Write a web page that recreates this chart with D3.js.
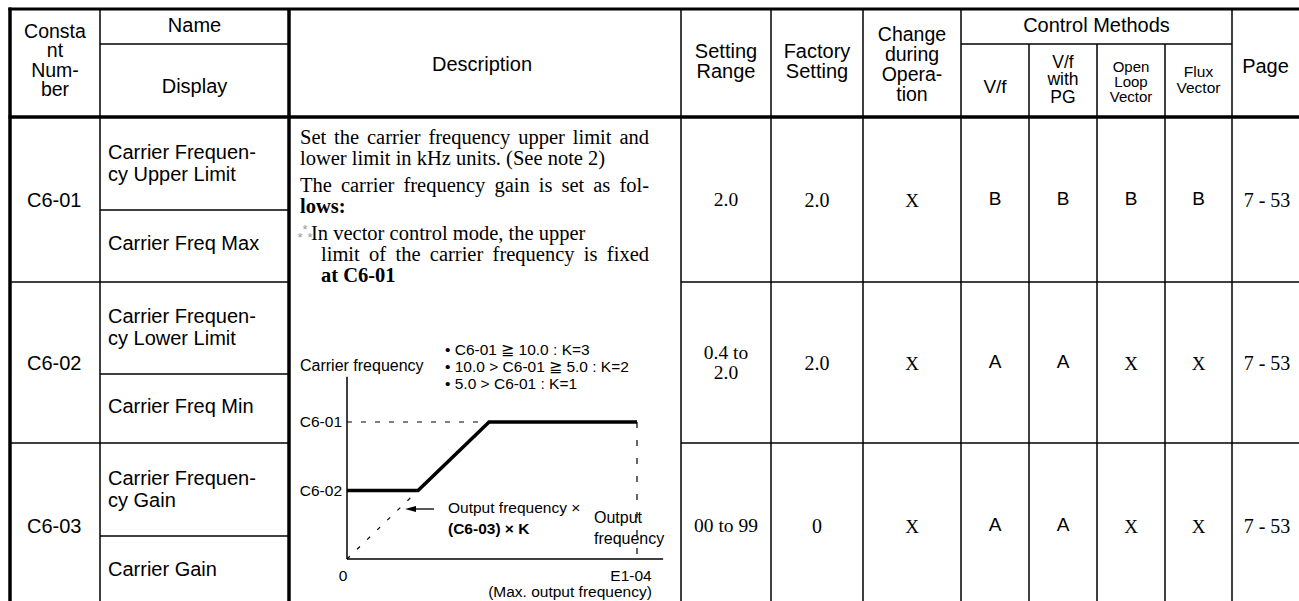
<!DOCTYPE html>
<html>
<head>
<meta charset="utf-8">
<script src="https://cdn.jsdelivr.net/npm/d3@7/dist/d3.min.js"></script>
<style>
  html, body { margin: 0; padding: 0; background: #fff; }
  svg { display: block; }
</style>
</head>
<body>
<svg id="chart" width="1299" height="601"></svg>
<script>
// ---------------- DATA ----------------
const constants = ["C6-01", "C6-02", "C6-03"];
const names = [["Carrier Frequen-", "cy Upper Limit"], ["Carrier Frequen-", "cy Lower Limit"], ["Carrier Frequen-", "cy Gain"]];
const displays = ["Carrier Freq Max", "Carrier Freq Min", "Carrier Gain"];
const settingRanges = [["2.0"], ["0.4 to", "2.0"], ["00 to 99"]];
const factorySettings = ["2.0", "2.0", "0"];
const changeDuringOp = ["X", "X", "X"];
const ctrlVf = ["B", "A", "A"];
const ctrlVfPG = ["B", "A", "A"];
const ctrlOLV = ["B", "X", "X"];
const ctrlFlux = ["B", "X", "X"];
const pages = ["7 - 53", "7 - 53", "7 - 53"];

const descLines = [
  "Set the carrier frequency upper limit and",
  "lower limit in kHz units. (See note 2)",
  "The carrier frequency gain is set as fol-",
  "lows:",
  "In vector control mode, the upper",
  "limit of the carrier frequency is fixed",
  "at C6-01"
];
const kRules = ["• C6-01 ≧ 10.0 : K=3", "• 10.0 > C6-01 ≧ 5.0 : K=2", "• 5.0 > C6-01 : K=1"];

// chart values (output frequency as fraction of E1-04, carrier in units of C6-02)
const curveX = [0, 0.245, 0.49, 1];
const curveY = [1, 1, 2, 2];
const gainLineX = [0, 0.245];
const gainLineY = [0, 1];
const levelC601 = 2, levelC602 = 1, e104 = 1;
const xAxisMax = 1.09, yAxisMax = 2.66;

// ---------------- LAYOUT ----------------
const svg = d3.select("#chart");
const SANS = "'Liberation Sans', Arial, Helvetica, sans-serif";
const SERIF = "'Liberation Serif', 'Times New Roman', serif";

const colX = [10, 100, 289, 681, 771, 863, 961, 1029, 1097, 1165, 1232, 1300];
const topY = 9, midHeadY = 44, headBottom = 117;
const rowY = [117, 282, 443, 608];
const nameSplit = [210, 374, 536];

svg.append("rect").attr("width", 1299).attr("height", 601).attr("fill", "#fff");

const grid = svg.append("g").attr("stroke", "#000").attr("fill", "none");
function hl(x1, x2, y, w) { grid.append("line").attr("x1", x1).attr("x2", x2).attr("y1", y).attr("y2", y).attr("stroke-width", w); }
function vl(x, y1, y2, w) { grid.append("line").attr("x1", x).attr("x2", x).attr("y1", y1).attr("y2", y2).attr("stroke-width", w); }

function txt(lines_, cx, cy, lh, opts) {
  const o = Object.assign({ size: 20, font: SANS, anchor: "middle", weight: "normal" }, opts || {});
  const n = lines_.length;
  lines_.forEach((s, i) => {
    svg.append("text")
      .attr("x", cx)
      .attr("y", cy + (i - (n - 1) / 2) * lh)
      .attr("dy", "0.35em")
      .attr("text-anchor", o.anchor)
      .attr("font-family", o.font)
      .attr("font-size", o.size)
      .attr("font-weight", o.weight)
      .attr("fill", "#000")
      .text(s);
  });
}

// grid lines
hl(colX[0] - 1.5, 1299, topY, 3);
hl(colX[0] - 1.5, 1299, headBottom, 3.5);
hl(colX[1], colX[2], midHeadY, 1.5);
hl(colX[6], colX[10], midHeadY, 1.5);
vl(colX[0], topY - 1.5, 601, 3.5);
vl(colX[1], topY, 601, 1.5);
vl(colX[2], topY, 601, 3.5);
[3, 4, 5, 6, 10].forEach(i => vl(colX[i], topY, 601, 1.5));
[7, 8, 9].forEach(i => vl(colX[i], midHeadY, 601, 1.5));
rowY.slice(1, 3).forEach(y => { hl(colX[0], colX[2], y, 1.5); hl(colX[3], 1299, y, 1.5); });
nameSplit.forEach(y => hl(colX[1], colX[2], y, 1.5));

// header texts
txt(["Consta", "nt", "Num-", "ber"], 55, 60, 19.5, { size: 19.5 });
txt(["Name"], 194.5, 25, 20);
txt(["Display"], 194.5, 86, 20);
txt(["Description"], 482, 64, 20);
txt(["Setting", "Range"], 726, 61, 20);
txt(["Factory", "Setting"], 817, 61, 20);
txt(["Change", "during", "Opera-", "tion"], 912, 64, 20, { size: 19.5 });
txt(["Control Methods"], 1096.5, 25, 20);
txt(["V/f"], 995, 86, 20, { size: 19 });
txt(["V/f", "with", "PG"], 1063, 79, 17.5, { size: 17.5 });
txt(["Open", "Loop", "Vector"], 1131, 82, 15, { size: 15 });
txt(["Flux", "Vector"], 1198.5, 80, 16, { size: 15.5 });
txt(["Page"], 1265.5, 66, 20);

// body rows
constants.forEach((c, i) => {
  const top = rowY[i], bot = rowY[i + 1], mid = (top + bot) / 2;
  txt([c], 27, mid, 20, { anchor: "start" });
  txt(names[i], 108, (top + nameSplit[i]) / 2 - 1, 22, { anchor: "start" });
  txt([displays[i]], 108, (nameSplit[i] + bot) / 2 - 3, 20, { anchor: "start" });
  txt(settingRanges[i], 726, mid, 20, { font: SERIF, size: 19.5 });
  txt([factorySettings[i]], 817, mid, 20, { font: SERIF, size: 20 });
  txt([changeDuringOp[i]], 912, mid + 1, 20, { font: SERIF, size: 19 });
  [ctrlVf, ctrlVfPG, ctrlOLV, ctrlFlux].forEach((arr, j) => {
    const cx = (colX[6 + j] + colX[7 + j]) / 2;
    if (arr[i] === "X") txt([arr[i]], cx, mid + 1, 20, { font: SERIF, size: 19 });
    else txt([arr[i]], cx, mid - 1, 20, { size: 19 });
  });
  txt([pages[i]], 1267, mid, 20, { font: SERIF, size: 20 });
});

// description (justified lines stretched to the column's text edge)
const descY = [137, 158, 185, 206, 233, 254, 275];
const descX = [300, 300, 300, 300, 311, 321, 321];
const descBold = [false, false, false, true, false, false, true];
const descJustify = [true, false, true, false, false, true, false];
const descRight = 649;
descLines.forEach((s, i) => {
  const t = svg.append("text").attr("x", descX[i]).attr("y", descY[i]).attr("dy", "0.35em")
    .attr("font-family", SERIF).attr("font-size", 20.5)
    .attr("font-weight", descBold[i] ? "bold" : "normal")
    .attr("fill", "#000").text(s);
  if (descJustify[i]) {
    const len = t.node().getComputedTextLength();
    const spaces = (s.match(/ /g) || []).length;
    const extra = (descRight - descX[i] - len) / spaces;
    if (extra > 0) t.style("word-spacing", extra + "px");
  }
});
// asterism mark before the note
[[305, descY[4] - 7], [300, descY[4] + 1], [310, descY[4] + 1]].forEach(p => {
  svg.append("text").attr("x", p[0]).attr("y", p[1]).attr("dy", "0.6em")
    .attr("text-anchor", "middle").attr("font-family", SANS).attr("font-size", 13)
    .attr("fill", "#999").text("*");
});

// ---------------- EMBEDDED CHART ----------------
const x = d3.scaleLinear().domain([0, 1]).range([347, 637]);
const y = d3.scaleLinear().domain([0, 2]).range([559, 422]);
const g = svg.append("g");

g.append("g").attr("transform", `translate(0,${y(0)})`)
  .call(d3.axisBottom(x).tickValues([]).tickSizeOuter(0))
  .call(a => a.select(".domain").attr("d", `M${x(0)},0H${x(xAxisMax)}`).attr("stroke-width", 1.5));
g.append("g").attr("transform", `translate(${x(0)},0)`)
  .call(d3.axisLeft(y).tickValues([]).tickSizeOuter(0))
  .call(a => a.select(".domain").attr("d", `M0,${y(yAxisMax)}V${y(0)}`).attr("stroke-width", 1.5));

g.append("line").attr("x1", x(0)).attr("x2", x(curveX[2])).attr("y1", y(levelC601)).attr("y2", y(levelC601))
  .attr("stroke", "#000").attr("stroke-width", 1.2).attr("stroke-dasharray", "5,9");
g.append("line").attr("x1", x(e104)).attr("x2", x(e104)).attr("y1", y(levelC601)).attr("y2", y(0))
  .attr("stroke", "#000").attr("stroke-width", 1.2).attr("stroke-dasharray", "6,12");
g.append("path").datum(gainLineX.map((v, i) => [v, gainLineY[i]]))
  .attr("d", d3.line().x(d => x(d[0])).y(d => y(d[1])))
  .attr("fill", "none").attr("stroke", "#000").attr("stroke-width", 1.2).attr("stroke-dasharray", "4,10");
g.append("path").datum(curveX.map((v, i) => [v, curveY[i]]))
  .attr("d", d3.line().x(d => x(d[0])).y(d => y(d[1])))
  .attr("fill", "none").attr("stroke", "#000").attr("stroke-width", 3.5);

function ctext(s, xx, yy, anchor, opts) {
  const o = Object.assign({ size: 16, weight: "normal" }, opts || {});
  g.append("text").attr("x", xx).attr("y", yy).attr("dy", "0.35em").attr("text-anchor", anchor)
    .attr("font-family", SANS).attr("font-size", o.size).attr("font-weight", o.weight).attr("fill", "#000").text(s);
}
ctext("Carrier frequency", 300, 365, "start");
kRules.forEach((s, i) => ctext(s, 445, 350 + i * 17, "start", { size: 15.5 }));
ctext("C6-01", x(0) - 5, y(levelC601), "end", { size: 15.5 });
ctext("C6-02", x(0) - 5, y(levelC602), "end", { size: 15.5 });
ctext("0", x(0) - 4, 576, "middle", { size: 15.5 });
ctext("E1-04", x(e104) - 6, 576, "middle", { size: 15.5 });
ctext("(Max. output frequency)", 570, 592, "middle", { size: 15.5 });
ctext("Output frequency ×", 448, 508, "start", { size: 15.5 });
ctext("(C6-03) × K", 448, 529, "start", { size: 15.5, weight: "bold" });
ctext("Output", 594, 517, "start", { size: 16 });
ctext("frequency", 594, 538, "start", { size: 16 });

// arrow pointing at the gain line
const arrowY = 509;
g.append("line").attr("x1", 434).attr("x2", 414).attr("y1", arrowY).attr("y2", arrowY).attr("stroke", "#000").attr("stroke-width", 1.3);
g.append("path").attr("d", `M405,${arrowY}L416,${arrowY - 3}L416,${arrowY + 3}Z`).attr("fill", "#000");
</script>
</body>
</html>
